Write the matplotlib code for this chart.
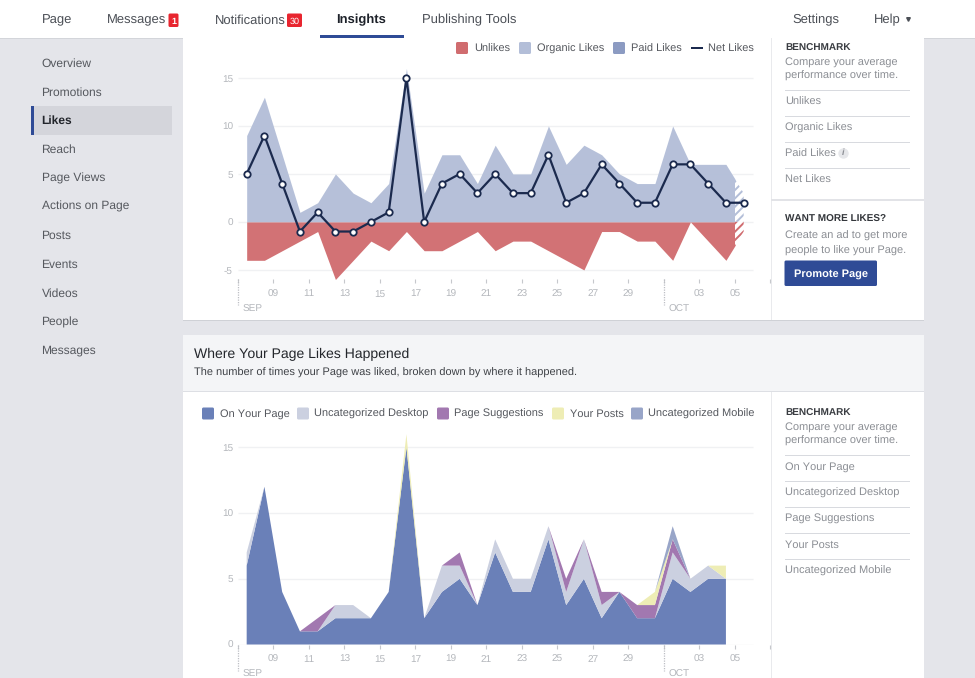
"""Page Insights likes dashboard, rebuilt in matplotlib. Saves out.png (975x678)."""

import matplotlib

matplotlib.use("Agg")
import matplotlib.pyplot as plt
import numpy as np
from matplotlib.patches import FancyBboxPatch, Rectangle

# ---- data ----------------------------------------------------------------
days_top = np.arange(7.5, 36, 1.0)
unlikes = [-4, -4, -3, -2, -1, -6, -4, -2, -3, -1, -3, -3, -2, -1, -3, -2, -2, -3, -4, -5, -1, -1, -2, -2, -4, 0, -2, -4, -1]
organic = [9, 13, 7, 1, 2, 5, 3, 2, 4, 16, 3, 7, 7, 4, 8, 5, 5, 10, 6, 8, 7, 5, 4, 4, 10, 6, 6, 6, 3]
net_likes = [5, 9, 4, -1, 1, -1, -1, 0, 1, 15, 0, 4, 5, 3, 5, 3, 3, 7, 2, 3, 6, 4, 2, 2, 6, 6, 4, 2, 2]

days_bottom = np.arange(7.5, 35, 1.0)
on_your_page = [6, 12, 4, 1, 1, 2, 2, 2, 4, 15, 2, 4, 5, 3, 7, 4, 4, 8, 3, 5, 2, 4, 2, 2, 5, 4, 5, 5]
uncat_desktop = [1, 0, 0, 0, 0, 1, 1, 0, 0, 0, 0, 2, 1, 0, 1, 1, 1, 1, 1, 3, 1, 0, 0, 0, 2, 1, 1, 0]
page_suggestions = [0, 0, 0, 0, 1, 0, 0, 0, 0, 0, 0, 0, 1, 0, 0, 0, 0, 0, 1, 0, 1, 0, 1, 1, 1, 0, 0, 0]
your_posts = [0, 0, 0, 0, 0, 0, 0, 0, 0, 1, 0, 0, 0, 0, 0, 0, 0, 0, 0, 0, 0, 0, 0, 1, 0, 0, 0, 1]
uncat_mobile = [0, 0, 0, 0, 0, 0, 0, 0, 0, 0, 0, 0, 0, 0, 0, 0, 0, 0, 0, 0, 0, 0, 0, 0, 1, 0, 0, 0]

tick_days = list(range(7, 38, 2))
tick_labels = ["", "09", "11", "13", "15", "17", "19", "21", "23", "25", "27", "29", "", "03", "05", ""]
y_ticks_top = [-5, 0, 5, 10, 15]
y_ticks_bottom = [0, 5, 10, 15]

nav_left = [("Page", 42), ("Messages", 107), ("Notifications", 214.5), ("Publishing Tools", 421.5)]
nav_right = [("Settings", 792.5), ("Help", 873.5)]
side_items = ["Overview", "Promotions", "Likes", "Reach", "Page Views", "Actions on Page", "Posts", "Events", "Videos", "People", "Messages"]
bench_top = ["Unlikes", "Organic Likes", "Paid Likes", "Net Likes"]
bench_bottom = ["On Your Page", "Uncategorized Desktop", "Page Suggestions", "Your Posts", "Uncategorized Mobile"]

# ---- palette -------------------------------------------------------------
PAGE = "#E4E5EA"
CARD = "#FFFFFF"
HEAD = "#F4F5F7"
RULE = "#DDDFE4"
INK = "#3A3D42"
MUTE = "#8B8E94"
TICK = "#B4B7BC"
BLUE = "#2F4B96"
RED_BADGE = "#E8252F"
C_UNLIKES = "#D06C6F"
C_ORGANIC = "#B3BED8"
C_PAID = "#8C9BC2"
C_NET = "#1B2A4E"
C_PAGE = "#6A80B8"
C_DESK = "#CBD0E0"
C_SUGG = "#A278B0"
C_POSTS = "#EEEDB5"
C_MOBILE = "#98A5C8"

W, H = 975, 678
plt.rcParams["font.family"] = ["Liberation Sans", "DejaVu Sans"]
plt.rcParams["hatch.linewidth"] = 1.4
plt.rcParams["text.hinting"] = "no_hinting"
plt.rcParams["text.hinting_factor"] = 1
plt.rcParams["axes.unicode_minus"] = False

fig = plt.figure(figsize=(W / 100, H / 100), dpi=100)
fig.patch.set_facecolor(PAGE)

# background layer in pixel coordinates for the page furniture
bg = fig.add_axes([0, 0, 1, 1], zorder=0)
bg.set_xlim(0, W)
bg.set_ylim(H, 0)
bg.axis("off")


def box(x0, y0, x1, y1, color):
    bg.add_patch(Rectangle((x0, y0), x1 - x0, y1 - y0, facecolor=color, edgecolor="none"))


def round_box(x0, y0, x1, y1, color, r=1.5):
    bg.add_patch(
        FancyBboxPatch((x0 + r, y0 + r), x1 - x0 - 2 * r, y1 - y0 - 2 * r,
                       boxstyle=f"round,pad={r},rounding_size={r}", facecolor=color, edgecolor="none")
    )


def label(x, y, s, size=9.3, color=INK, weight="normal", ha="left"):
    # half-pixel baseline, otherwise agg rounding makes rows jitter by a pixel
    bg.text(x, round(y + 0.5 * size) - 0.5, s, fontsize=size, color=color, fontweight=weight, ha=ha, va="baseline")


# ---- nav bar -------------------------------------------------------------
box(0, 0, W, 37.5, CARD)
box(0, 37.5, W, 38.5, "#D3D5DA")
for name, x in nav_left + nav_right:
    label(x, 19, name, size=9.0, color="#4B4F56")
label(361.5, 19, "Insights", size=9.0, color="#1D2129", weight="bold", ha="center")
box(320, 35, 404, 38, BLUE)
round_box(168.5, 13.5, 178.5, 27, RED_BADGE)
label(173.5, 20.5, "1", size=6.5, color="white", weight="bold", ha="center")
round_box(287, 13.5, 302, 27, RED_BADGE)
label(294.5, 20.5, "30", size=6.5, color="white", ha="center")
bg.plot([908], [19], marker="v", ms=2.6, color="#4B4F56")

# ---- side menu -----------------------------------------------------------
box(34, 106, 171.5, 134.5, "#D4D5DB")
box(31, 106, 34, 134.5, BLUE)
for i, name in enumerate(side_items):
    y = 62.3 + i * 28.75
    if name == "Likes":
        label(41.5, y, name, size=8.9, color="#22252B", weight="bold")
    else:
        label(41.5, y, name, size=8.9, color="#55585E")

# ---- cards ---------------------------------------------------------------
box(183, 38, 924, 320, CARD)
box(183, 320, 924, 321, "#CFD1D6")
box(183, 335, 924, 678, CARD)
box(183, 335, 924, 391, HEAD)
box(183, 391, 924, 392, RULE)
box(770.5, 38, 771.5, 320, "#E9EAED")
box(770.5, 392, 771.5, 678, "#E9EAED")
box(771, 198.5, 924, 200.5, "#E2E3E7")
label(194, 354, "Where Your Page Likes Happened", size=10.0, color="#23262B")
label(194, 372.6, "The number of times your Page was liked, broken down by where it happened.", size=7.75, color="#3F4247")


def bench(y0, names):
    label(785, y0, "BENCHMARK", size=7.3, color="#3A3D42", weight="bold")
    label(785, y0 + 14, "Compare your average", size=7.95, color=MUTE)
    label(785, y0 + 28, "performance over time.", size=7.95, color=MUTE)
    for i, name in enumerate(names):
        box(785, y0 + 43 + i * 26, 910, y0 + 44 + i * 26, "#D8DADF")
        label(785, y0 + 54.3 + i * 26, name, size=7.95, color=MUTE)


bench(47, bench_top)
bench(412, bench_bottom)
bg.plot([843], [153], marker="o", ms=7.5, color="#E6E7EA", mec="none")
bg.text(843, 153, "i", fontsize=6.5, color="#8B8E94", ha="center", va="center", style="italic", fontweight="bold")

label(785, 218, "WANT MORE LIKES?", size=7.3, color="#33363B", weight="bold")
label(785, 235.5, "Create an ad to get more", size=7.95, color=MUTE)
label(785, 250, "people to like your Page.", size=7.95, color=MUTE)
round_box(784.5, 260.5, 877, 286, BLUE)
label(830.7, 273.3, "Promote Page", size=8.0, color="white", weight="bold", ha="center")

# ---- legends -------------------------------------------------------------
for x, name, c in [(456, "Unlikes", C_UNLIKES), (519, "Organic Likes", C_ORGANIC), (613, "Paid Likes", C_PAID)]:
    round_box(x, 42, x + 12, 54, c)
    label(x + 18, 48, name, size=7.8, color="#55585E")
box(691, 47, 702.5, 49.3, C_NET)
label(707.5, 48, "Net Likes", size=7.8, color="#55585E")

for x, name, c in [
    (202, "On Your Page", C_PAGE),
    (297, "Uncategorized Desktop", C_DESK),
    (437, "Page Suggestions", C_SUGG),
    (552, "Your Posts", C_POSTS),
    (631, "Uncategorized Mobile", C_MOBILE),
]:
    round_box(x, 407.5, x + 12, 419.5, c)
    label(x + 17.5, 413, name, size=7.8, color="#55585E")


# ---- charts --------------------------------------------------------------
def day_px(d):
    return 273.3 + (d - 9) * 17.75


def chart_axes(y_top, y_bot, ylim, yticks):
    x0, x1 = day_px(7), day_px(37)
    ax = fig.add_axes([x0 / W, 1 - y_bot / H, (x1 - x0) / W, (y_bot - y_top) / H], zorder=2)
    ax.patch.set_alpha(0)
    ax.set_xlim(7, 37)
    ax.set_ylim(*ylim)
    for side in ax.spines:
        ax.spines[side].set_visible(False)
    ax.set_xticks(tick_days)
    ax.set_xticklabels(tick_labels, va="baseline")
    ax.set_yticks(yticks)
    ax.tick_params(axis="x", length=3.2, width=0.8, color="#C6C8CC", labelcolor=TICK, labelsize=7.3, pad=9.04)
    ax.tick_params(axis="y", length=0, labelcolor=TICK, labelsize=7.3, pad=3.5)
    ax.hlines(yticks, 7, 36, color="#F0F1F3", lw=1, zorder=1)
    trans = ax.get_xaxis_transform()
    for d, month in [(7, "SEP"), (31, "OCT")]:
        ax.plot([d, d], [0, -26 / (y_bot - y_top)], transform=trans, clip_on=False,
                color="#BDBFC4", lw=0.9, ls=(0, (1, 1)))
        ax.annotate(month, xy=(d, 0), xycoords=trans, xytext=(5, -32), textcoords="offset pixels",
                    fontsize=7.0, color=TICK, ha="left", va="baseline", annotation_clip=False)
    return ax


ax1 = chart_axes(58.8, 279.5, (-6, 17), y_ticks_top)
split = Rectangle((7, -6), 28, 23, transform=ax1.transData)
tail = Rectangle((35, -6), 1, 23, transform=ax1.transData)
for values, c in [(organic, C_ORGANIC), (unlikes, C_UNLIKES)]:
    solid = ax1.fill_between(days_top, 0, values, color=c, lw=0, alpha=0.96, zorder=2)
    solid.set_clip_path(split)
    hatched = ax1.fill_between(days_top, 0, values, facecolor="white", edgecolor=c, hatch="////", lw=0, zorder=2)
    hatched.set_clip_path(tail)
ax1.plot(days_top, net_likes, color=C_NET, lw=1.6, marker="o", ms=4.6, mfc="white", mec=C_NET, mew=1.3,
         clip_on=False, zorder=4)

ax2 = chart_axes(421, 644.5, (0, 17), y_ticks_bottom)
ax2.stackplot(days_bottom, on_your_page, uncat_desktop, page_suggestions, your_posts, uncat_mobile,
              colors=[C_PAGE, C_DESK, C_SUGG, C_POSTS, C_MOBILE], lw=0, zorder=2)

fig.savefig("out.png", dpi=100, facecolor=PAGE)
